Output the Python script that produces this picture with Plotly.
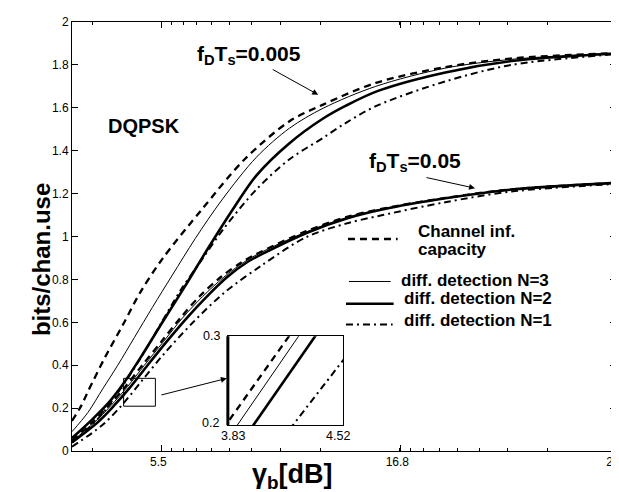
import math
import plotly.graph_objects as go

# ---------------- data ----------------
X_RANGE = [1.275, 27.0]
Y_RANGE = [0.0, 2.0]
x_tick_vals = [5.5, 16.8, 27]
x_tick_text = ["5.5", "16.8", "27"]
y_tick_vals = [0, 0.2, 0.4, 0.6, 0.8, 1.0, 1.2, 1.4, 1.6, 1.8, 2.0]
y_tick_text = ["0", "0.2", "0.4", "0.6", "0.8", "1", "1.2", "1.4", "1.6", "1.8", "2"]

# f_D T_s = 0.005
a_cap_x = [1.275, 1.70, 2.03, 2.81, 3.67, 4.51, 5.55, 7.43, 9.44, 11.56, 13.15, 15.64, 18.93, 22.07, 27.0]
a_cap_y = [0.14, 0.209, 0.277, 0.432, 0.586, 0.741, 0.896, 1.128, 1.36, 1.537, 1.615, 1.716, 1.79, 1.83, 1.855]
a_n3_x = [1.275, 2.03, 2.73, 3.44, 4.23, 5.08, 6.02, 7.10, 8.36, 10.0, 11.56, 13.15, 15.64, 18.93, 22.07, 27.0]
a_n3_y = [0.09, 0.18, 0.29, 0.40, 0.53, 0.67, 0.82, 0.99, 1.17, 1.37, 1.505, 1.598, 1.70, 1.785, 1.826, 1.855]
a_n2_x = [1.275, 2.26, 3.05, 3.75, 4.61, 5.55, 6.63, 7.74, 8.97, 10.0, 11.56, 13.15, 14.23, 15.78, 18.93, 22.07, 27.0]
a_n2_y = [0.06, 0.15, 0.23, 0.32, 0.45, 0.60, 0.77, 0.95, 1.14, 1.285, 1.435, 1.55, 1.61, 1.68, 1.765, 1.818, 1.853]
a_n1_x = [1.275, 2.5, 3.5, 4.5, 5.4, 6.35, 7.4, 8.44, 10.0, 11.56, 13.15, 14.23, 15.7, 18.93, 22.07, 27.0]
a_n1_y = [0.04, 0.15, 0.28, 0.43, 0.58, 0.74, 0.89, 1.035, 1.22, 1.36, 1.46, 1.53, 1.61, 1.723, 1.80, 1.85]

# f_D T_s = 0.05
b_cap_x = [1.275, 2.2, 3.0, 3.8, 4.6, 5.5, 6.4, 7.3, 8.3, 9.3, 10.24, 12.35, 14.23, 15.97, 18.93, 22.07, 27.0]
b_cap_y = [0.05, 0.13, 0.21, 0.30, 0.40, 0.51, 0.62, 0.72, 0.81, 0.88, 0.93, 1.025, 1.09, 1.13, 1.18, 1.22, 1.25]
b_n3_x = [1.275, 2.3, 3.1, 3.9, 4.7, 5.6, 6.5, 7.45, 8.45, 9.4, 10.3, 12.4, 14.25, 15.97, 18.93, 22.07, 27.0]
b_n3_y = [0.045, 0.13, 0.21, 0.30, 0.40, 0.51, 0.62, 0.72, 0.81, 0.88, 0.93, 1.023, 1.088, 1.129, 1.179, 1.22, 1.25]
b_n2_x = [1.275, 2.45, 3.25, 4.05, 4.85, 5.75, 6.7, 7.65, 8.6, 9.55, 10.4, 12.45, 14.3, 16.0, 18.93, 22.07, 27.0]
b_n2_y = [0.04, 0.13, 0.21, 0.30, 0.40, 0.51, 0.62, 0.72, 0.81, 0.88, 0.925, 1.02, 1.085, 1.127, 1.178, 1.219, 1.25]
b_n1_x = [1.275, 2.7, 3.6, 4.6, 5.6, 7.0, 8.5, 10.24, 12.35, 14.23, 15.97, 18.93, 22.07, 27.0]
b_n1_y = [0.02, 0.12, 0.21, 0.33, 0.45, 0.60, 0.74, 0.865, 0.997, 1.06, 1.10, 1.16, 1.21, 1.245]

# zoomed inset
inset_x_range = [3.83, 4.52]
inset_y_range = [0.2, 0.3]
inset_x_ticks = ["3.83", "4.52"]
inset_y_ticks = ["0.2", "0.3"]
inset_cap_x = [3.80, 4.22]
inset_cap_y = [0.195, 0.306]
inset_n3_x = [3.87, 4.28]
inset_n3_y = [0.195, 0.307]
inset_n2_x = [3.966, 4.372]
inset_n2_y = [0.195, 0.305]
inset_n1_x = [4.20, 4.55]
inset_n1_y = [0.195, 0.2802]

legend_labels = ["Channel inf.", "capacity", "diff. detection N=3",
                 "diff. detection N=2", "diff. detection N=1"]

# ---------------- styles ----------------
W, H = 619, 492
ML, MR, MT, MB = 64, 7, 12, 49
PW, PH = W - ML - MR, H - MT - MB
FONT = "Liberation Sans, Arial, Helvetica, sans-serif"

STY = {
    "cap": dict(color="black", width=2.3, dash="7px,5px"),
    "n3": dict(color="black", width=1.0),
    "n2": dict(color="black", width=2.6),
    "n1": dict(color="black", width=2.0, dash="7px,4px,2px,4px"),
}


def px(x):
    return (x - ML) / PW


def py(y):
    return (H - MB - y) / PH


fig = go.Figure()

for xs, ys, key in [(b_n1_x, b_n1_y, "n1"), (b_n2_x, b_n2_y, "n2"), (b_n3_x, b_n3_y, "n3"),
                    (b_cap_x, b_cap_y, "cap"),
                    (a_n1_x, a_n1_y, "n1"), (a_n2_x, a_n2_y, "n2"), (a_n3_x, a_n3_y, "n3"),
                    (a_cap_x, a_cap_y, "cap")]:
    fig.add_trace(go.Scatter(x=xs, y=ys, mode="lines", line=dict(shape="spline", smoothing=0.9, **STY[key]),
                             hoverinfo="skip", showlegend=False))

for xs, ys, key in [(inset_cap_x, inset_cap_y, "cap"), (inset_n3_x, inset_n3_y, "n3"),
                    (inset_n2_x, inset_n2_y, "n2"), (inset_n1_x, inset_n1_y, "n1")]:
    fig.add_trace(go.Scatter(x=xs, y=ys, mode="lines", line=STY[key], xaxis="x2", yaxis="y2",
                             hoverinfo="skip", showlegend=False))

# minor ticks: reversed-log pattern between labelled ticks
dec = 229.0
minor_px = []
for d in (-1, 0, 1):
    for k in range(2, 10):
        p = 154 + (d + 1 - math.log10(k)) * dec
        if ML + 1 < p < 611:
            minor_px.append(p)
minor_vals = [X_RANGE[0] + (p - ML) / PW * (X_RANGE[1] - X_RANGE[0]) for p in minor_px]

axis_common = dict(showgrid=False, zeroline=False, showline=True, linecolor="black", linewidth=1,
                   ticks="inside", tickcolor="black", ticklen=6, mirror="ticks",
                   tickfont=dict(family=FONT, size=12, color="black"))

IX0, IX1, IY0, IY1 = 220.7, 337, 417, 327.7
fig.update_layout(
    width=W, height=H, margin=dict(l=ML, r=MR, t=MT, b=MB, pad=0),
    paper_bgcolor="white", plot_bgcolor="white", showlegend=False,
    xaxis=dict(range=X_RANGE, tickmode="array", tickvals=x_tick_vals, ticktext=x_tick_text,
               ticklabeloverflow="allow", ticklabelshift=-3,
               minor=dict(tickmode="array", tickvals=minor_vals, ticks="inside", ticklen=3,
                          tickcolor="black", showgrid=False),
               **axis_common),
    yaxis=dict(range=Y_RANGE, tickmode="array", tickvals=y_tick_vals, ticktext=y_tick_text, **axis_common),
    xaxis2=dict(domain=[px(IX0), px(IX1)], anchor="y2", range=inset_x_range, showticklabels=False,
                ticks="", showgrid=False, zeroline=False,
                showline=True, linecolor="black", linewidth=1, mirror=True),
    yaxis2=dict(domain=[py(IY0), py(IY1)], anchor="x2", range=inset_y_range, showticklabels=False,
                ticks="", showgrid=False, zeroline=False,
                showline=True, linecolor="black", linewidth=1, mirror=True),
)

shapes = []
shapes.append(dict(type="line", xref="paper", yref="paper", x0=px(221), x1=px(221), y0=py(IY0), y1=py(IY1),
                   line=dict(color="black", width=3)))
shapes.append(dict(type="rect", xref="paper", yref="paper", x0=px(116), x1=px(148), y0=py(398), y1=py(370),
                   line=dict(color="black", width=1)))
leg_rows = [(230, "cap", 342, 392), (272.7, "n3", 343, 385), (295, "n2", 340, 388), (316, "n1", 340, 387)]
for yy, key, x0, x1 in leg_rows:
    st = STY[key]
    shapes.append(dict(type="line", xref="paper", yref="paper", x0=px(x0), x1=px(x1), y0=py(yy), y1=py(yy),
                       line=dict(color="black", width=st["width"], dash=st.get("dash", "solid"))))
fig.update_layout(shapes=shapes)

ann = []


def text(x, y, s, size, xanchor="center", yanchor="middle", angle=0, bold=True):
    ann.append(dict(x=px(x), y=py(y), xref="paper", yref="paper", text=("<b>%s</b>" % s) if bold else s,
                    showarrow=False, xanchor=xanchor, yanchor=yanchor, textangle=angle,
                    font=dict(family=FONT, size=size, color="black")))


def arrow(x0, y0, x1, y1):
    ann.append(dict(x=px(x1), y=py(y1), xref="paper", yref="paper", ax=x0 - x1, ay=y0 - y1,
                    axref="pixel", ayref="pixel", text="", showarrow=True, arrowhead=2, arrowsize=1.2,
                    arrowwidth=1, arrowcolor="black"))


# inset tick labels
text(215, IY1, inset_y_ticks[1], 12.5, xanchor="right", bold=False)
text(214, IY0 - 2, inset_y_ticks[0], 12.5, xanchor="right", bold=False)
text(226, IY0 + 2, inset_x_ticks[0], 12.5, yanchor="top", bold=False)
text(332, IY0 + 2, inset_x_ticks[1], 12.5, yanchor="top", bold=False)

text(242, 45, "f<sub>D</sub>T<sub>s</sub>=0.005", 21)
arrow(265, 59, 312, 85)
text(137, 116, "DQPSK", 20)
text(410, 153, "f<sub>D</sub>T<sub>s</sub>=0.05", 21)
arrow(420, 168, 470, 179)
text(411, 222, legend_labels[0], 17, xanchor="left")
text(411, 241, legend_labels[1], 17, xanchor="left")
text(393, 272, legend_labels[2], 17, xanchor="left")
text(396, 290, legend_labels[3], 17, xanchor="left")
text(396, 312, legend_labels[4], 17, xanchor="left")
arrow(153, 387, 220, 370)
text(34, 251, "bits/chan.use", 24, angle=-90)
text(286, 449, "γ<sub>b</sub>[dB]", 27, yanchor="top")
fig.update_layout(annotations=ann)

fig.write_html("out.html")
